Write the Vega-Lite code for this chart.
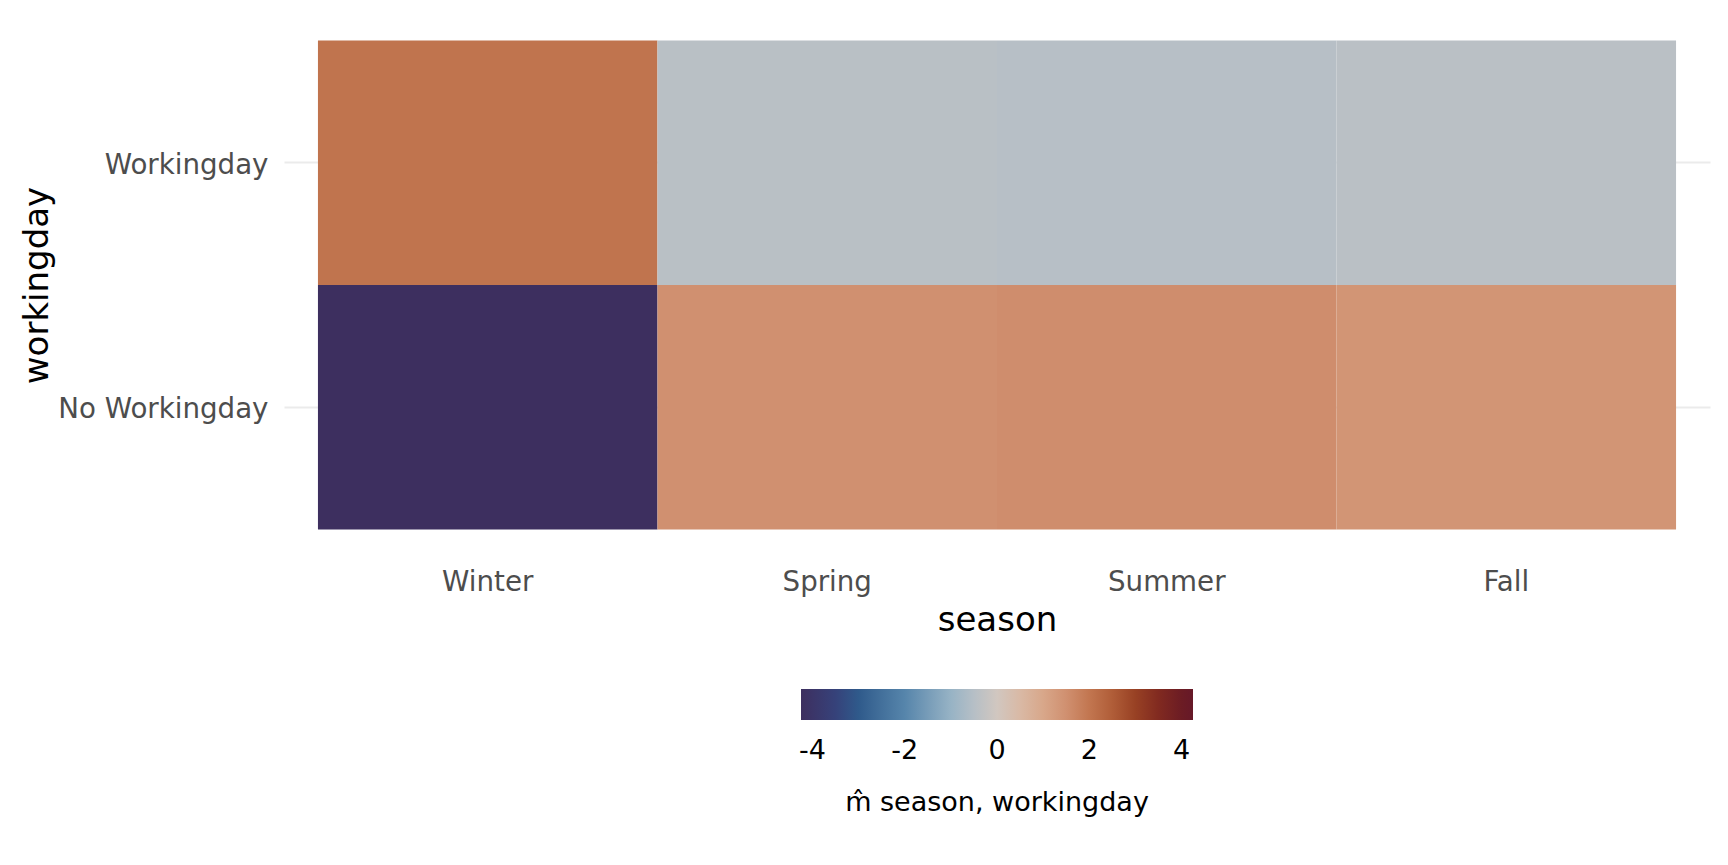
{
  "$schema": "https://vega.github.io/schema/vega-lite/v6.json",
  "width": 1426,
  "height": 538,
  "autosize": {"type": "none"},
  "padding": {"left": 284, "top": 16, "right": 18, "bottom": 311},
  "background": "white",
  "config": {
    "font": "DejaVu Sans",
    "view": {"stroke": null},
    "axis": {"domain": false, "ticks": false, "labelFont": "DejaVu Sans", "titleFont": "DejaVu Sans", "labelColor": "#4d4d4d", "labelFontSize": 27.7, "labelLimit": 0, "titleFontSize": 34, "titleFontWeight": "normal", "titleColor": "black"}
  },
  "data": {
    "values": [
      {"season": "Winter", "workingday": "Workingday", "value": 2.05},
      {"season": "Winter", "workingday": "No Workingday", "value": -4.25},
      {"season": "Spring", "workingday": "Workingday", "value": -0.45},
      {"season": "Spring", "workingday": "No Workingday", "value": 1.5},
      {"season": "Summer", "workingday": "Workingday", "value": -0.48},
      {"season": "Summer", "workingday": "No Workingday", "value": 1.55},
      {"season": "Fall", "workingday": "Workingday", "value": -0.42},
      {"season": "Fall", "workingday": "No Workingday", "value": 1.4}
    ]
  },
  "mark": {"type": "rect"},
  "encoding": {
    "x": {
      "field": "season", "type": "nominal",
      "sort": ["Winter", "Spring", "Summer", "Fall"],
      "scale": {"paddingInner": 0, "paddingOuter": 0.1},
      "axis": {"grid": false, "labelAngle": 0, "labelPadding": 14, "titlePadding": 8, "title": "season"}
    },
    "y": {
      "field": "workingday", "type": "nominal",
      "sort": ["Workingday", "No Workingday"],
      "scale": {"paddingInner": 0, "paddingOuter": 0.1},
      "axis": {"grid": true, "zindex": 0, "gridColor": "#ebebeb", "gridWidth": 2, "labelPadding": 16, "labelOffset": 3, "titlePadding": 30, "title": "workingday"}
    },
    "color": {
      "field": "value", "type": "quantitative",
      "scale": {
        "domain": [-4.25, -3.5, -3, -2, -1, -0.5, 0, 0.5, 1, 1.5, 2, 2.5, 3, 3.5, 4, 4.25],
        "range": ["#3d2f5f", "#36427a", "#2f5a8b", "#5685ab", "#97b3c5", "#b6bfc6", "#d1c7c0", "#d9b9a5", "#d8a78a", "#d09070", "#c27650", "#b05d38", "#984124", "#812a20", "#6c1c24", "#661828"],
        "interpolate": "rgb"
      },
      "legend": {
        "title": "m\u0302 season, workingday",
        "orient": "none",
        "legendX": 517,
        "legendY": 673,
        "direction": "horizontal",
        "gradientLength": 392,
        "gradientThickness": 31,
        "gradientStrokeWidth": 0,
        "values": [-4, -2, 0, 2, 4],
        "labelExpr": "toString(datum.value)",
        "labelFontSize": 27,
        "labelColor": "black",
        "labelFont": "DejaVu Sans",
        "labelOffset": 18,
        "labelOverlap": false,
        "titleOrient": "bottom",
        "titleFontSize": 27,
        "titleLimit": 2000,
        "titleFontWeight": "normal",
        "titleColor": "black",
        "titleFont": "DejaVu Sans",
        "titleAnchor": "middle",
        "titlePadding": 26,
        "padding": 0
      }
    }
  }
}
